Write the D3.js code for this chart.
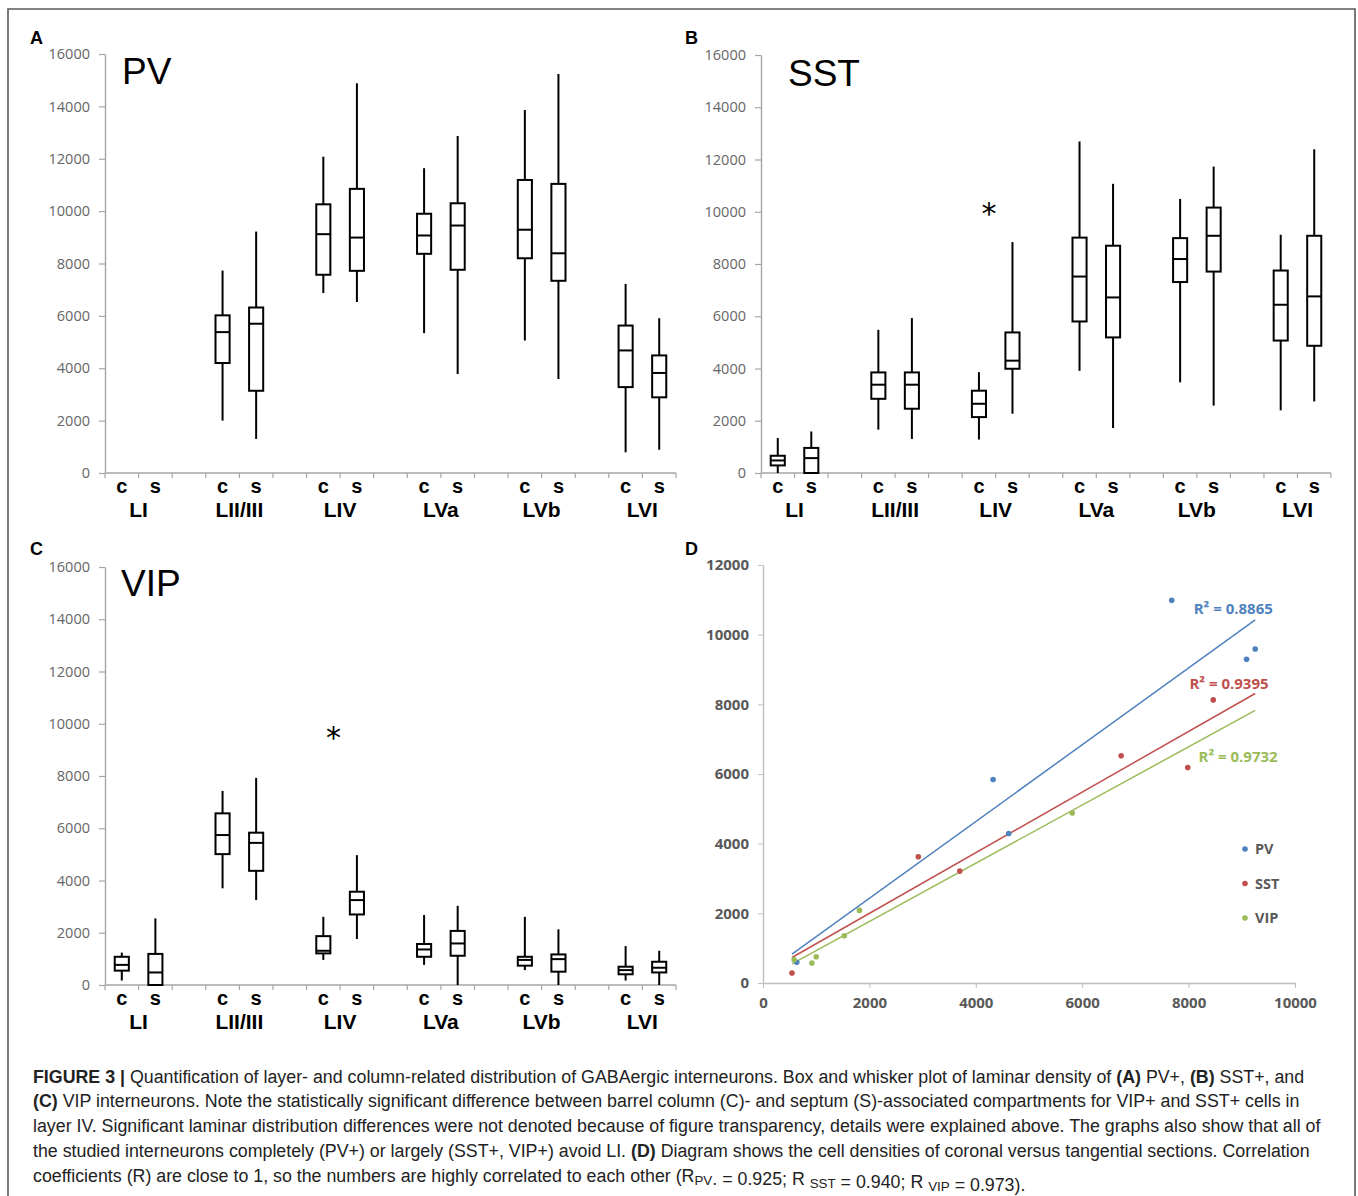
<!DOCTYPE html>
<html><head><meta charset="utf-8">
<script src="https://cdn.jsdelivr.net/npm/d3@7/dist/d3.min.js"></script>
<style>body{margin:0;background:#fff}svg{display:block}</style>
</head><body>
<svg id="fig" width="1358" height="1196"></svg>
<script>
// ---------------- DATA ----------------
const layers = ["LI", "LII/III", "LIV", "LVa", "LVb", "LVI"];
const compartments = ["c", "s"];
const yTicksBox = [0, 2000, 4000, 6000, 8000, 10000, 12000, 14000, 16000];
// each entry: [whisker low, Q1, median, Q3, whisker high]; order LI c, LI s, LII/III c, LII/III s, ...
const pvBoxes = [
  null, null,
  [2000, 4200, 5380, 6020, 7730], [1300, 3140, 5700, 6320, 9220],
  [6870, 7570, 9120, 10260, 12080], [6530, 7720, 8990, 10850, 14880],
  [5340, 8370, 9070, 9900, 11640], [3780, 7760, 9450, 10300, 12870],
  [5060, 8200, 9290, 11190, 13860], [3590, 7340, 8390, 11040, 15240],
  [790, 3280, 4680, 5630, 7220], [890, 2890, 3820, 4490, 5910]
];
const sstBoxes = [
  [0, 290, 480, 660, 1340], [0, 0, 570, 960, 1590],
  [1660, 2840, 3380, 3850, 5480], [1300, 2460, 3380, 3850, 5930],
  [1280, 2140, 2650, 3150, 3860], [2270, 3990, 4300, 5380, 8840],
  [3910, 5800, 7520, 9010, 12690], [1720, 5190, 6720, 8700, 11070],
  [3470, 7310, 8190, 8990, 10490], [2580, 7710, 9080, 10160, 11730],
  [2400, 5070, 6440, 7750, 9120], [2740, 4870, 6760, 9080, 12390]
];
const vipBoxes = [
  [170, 550, 770, 1080, 1240], [0, 0, 480, 1190, 2550],
  [3700, 5010, 5740, 6570, 7430], [3250, 4370, 5440, 5830, 7930],
  [960, 1210, 1310, 1870, 2610], [1760, 2700, 3250, 3570, 4970],
  [770, 1080, 1360, 1570, 2680], [0, 1120, 1590, 2070, 3030],
  [570, 740, 960, 1080, 2610], [0, 510, 990, 1170, 2130],
  [170, 410, 570, 700, 1490], [0, 480, 660, 890, 1310]
];
// significance markers: [layer, value]
const sstStar = ["LIV", 10070];
const vipStar = ["LIV", 9620];

// Panel D: coronal (x) vs tangential (y) densities
const seriesNames = ["PV", "SST", "VIP"];
const pvX = [634, 4325, 4618, 7683, 9089, 9252];
const pvY = [593, 5842, 4293, 10987, 9294, 9590];
const sstX = [545, 2919, 3699, 6732, 7984, 8463];
const sstY = [287, 3624, 3213, 6521, 6186, 8127];
const vipX = [585, 919, 1000, 1528, 1813, 5813];
const vipY = [669, 574, 755, 1358, 2084, 4877];
const r2Labels = ["R² = 0.8865", "R² = 0.9395", "R² = 0.9732"];
const xTicksD = [0, 2000, 4000, 6000, 8000, 10000];
const yTicksD = [0, 2000, 4000, 6000, 8000, 10000, 12000];

const captionLines = [
  [["FIGURE 3 | ", true], ["Quantification of layer- and column-related distribution of GABAergic interneurons. Box and whisker plot of laminar density of ", false], ["(A)", true], [" PV+, ", false], ["(B)", true], [" SST+, and", false]],
  [["(C)", true], [" VIP interneurons. Note the statistically significant difference between barrel column (C)- and septum (S)-associated compartments for VIP+ and SST+ cells in", false]],
  [["layer IV. Significant laminar distribution differences were not denoted because of figure transparency, details were explained above. The graphs also show that all of", false]],
  [["the studied interneurons completely (PV+) or largely (SST+, VIP+) avoid LI. ", false], ["(D)", true], [" Diagram shows the cell densities of coronal versus tangential sections. Correlation", false]],
  [["coefficients (R) are close to 1, so the numbers are highly correlated to each other (R", false], ["PV", "sub"], [". =  0.925; R ", false], ["SST", "sub"], [" =  0.940; R ", false], ["VIP", "sub"], [" = 0.973).", false]]
];

// ---------------- DRAWING ----------------
const svg = d3.select("#fig");
const axisGray = "#a6a6a6";
const labelGray = "#595959";
const sans = "'Liberation Sans', Arial, sans-serif";
const tickFont = "'Open Sans', 'Liberation Sans', sans-serif";

svg.append("path").attr("d", "M8,1196V9H1355V1196")
  .attr("fill", "none").attr("stroke", "#5a5a5a").attr("stroke-width", 1.6);

function boxPanel(cfg) {
  const g = svg.append("g");
  const slots = [];
  layers.forEach((L, i) => {
    compartments.forEach(c => slots.push(L + "|" + c));
    if (i < layers.length - 1) slots.push(L + "|gap");
  });
  const x = d3.scaleBand().domain(slots).range([cfg.x0, cfg.x1]);
  const y = d3.scaleLinear().domain([0, 16000]).range([cfg.yBot, cfg.yTop]);
  const bw = x.bandwidth();

  const ya = g.append("g").attr("transform", `translate(${cfg.x0},0)`)
    .call(d3.axisLeft(y).tickValues(yTicksBox).tickSize(6).tickSizeOuter(0).tickPadding(9).tickFormat(d3.format("d")));
  ya.select(".domain").attr("stroke", axisGray).attr("stroke-width", 1.4);
  ya.selectAll(".tick line").attr("stroke", axisGray).attr("stroke-width", 1.2);
  ya.selectAll(".tick text").attr("fill", "#666").style("font-family", tickFont).style("font-size", "14.5px");

  const bounds = slots.map(s => x(s)).concat([cfg.x1]);
  g.append("line").attr("x1", cfg.x0).attr("x2", cfg.x1).attr("y1", cfg.yBot).attr("y2", cfg.yBot)
    .attr("stroke", axisGray).attr("stroke-width", 1.4);
  g.selectAll(".xt").data(bounds).join("line").attr("class", "xt")
    .attr("x1", d => d).attr("x2", d => d).attr("y1", cfg.yBot).attr("y2", cfg.yBot + 5)
    .attr("stroke", axisGray).attr("stroke-width", 1.2);

  const items = [];
  layers.forEach((L, i) => compartments.forEach((c, j) => {
    const v = cfg.data[i * 2 + j];
    if (v) items.push({ slot: L + "|" + c, v });
  }));
  const boxW = bw * 0.42;
  const bg = g.selectAll(".box").data(items).join("g").attr("class", "box");
  bg.append("line").attr("x1", d => x(d.slot) + bw / 2).attr("x2", d => x(d.slot) + bw / 2)
    .attr("y1", d => y(d.v[0])).attr("y2", d => y(d.v[4])).attr("stroke", "#000").attr("stroke-width", 2);
  bg.append("rect").attr("x", d => x(d.slot) + bw / 2 - boxW / 2).attr("width", boxW)
    .attr("y", d => y(d.v[3])).attr("height", d => y(d.v[1]) - y(d.v[3]))
    .attr("fill", "#fff").attr("stroke", "#000").attr("stroke-width", 2);
  bg.append("line").attr("x1", d => x(d.slot) + bw / 2 - boxW / 2).attr("x2", d => x(d.slot) + bw / 2 + boxW / 2)
    .attr("y1", d => y(d.v[2])).attr("y2", d => y(d.v[2])).attr("stroke", "#000").attr("stroke-width", 2);

  layers.forEach(L => compartments.forEach(c => {
    g.append("text").attr("x", x(L + "|" + c) + bw / 2).attr("y", cfg.yBot + 20)
      .attr("text-anchor", "middle").style("font-family", sans).style("font-weight", "bold")
      .style("font-size", "20px").text(c);
  }));
  layers.forEach(L => {
    g.append("text").attr("x", x(L + "|c") + bw).attr("y", cfg.yBot + 44)
      .attr("text-anchor", "middle").style("font-family", sans).style("font-weight", "bold")
      .style("font-size", "21px").text(L);
  });

  g.append("text").attr("x", cfg.titleX).attr("y", cfg.titleY).style("font-family", sans)
    .style("font-size", "37px").text(cfg.title);
  g.append("text").attr("x", cfg.letterX).attr("y", cfg.letterY).style("font-family", sans)
    .style("font-weight", "bold").style("font-size", "18px").text(cfg.letter);

  if (cfg.star) {
    g.append("text").attr("x", x(cfg.star[0] + "|c") + bw * 0.8).attr("y", y(cfg.star[1]) + 14)
      .attr("text-anchor", "middle").style("font-family", "'DejaVu Sans', sans-serif")
      .style("font-size", "30px").text("*");
  }
}

boxPanel({ data: pvBoxes, x0: 105, x1: 676, yTop: 54, yBot: 473, title: "PV", titleX: 122, titleY: 84, letter: "A", letterX: 30, letterY: 44 });
boxPanel({ data: sstBoxes, x0: 761, x1: 1331, yTop: 55, yBot: 473, title: "SST", titleX: 788, titleY: 86, letter: "B", letterX: 685, letterY: 44, star: sstStar });
boxPanel({ data: vipBoxes, x0: 105, x1: 676, yTop: 567, yBot: 985, title: "VIP", titleX: 121, titleY: 596, letter: "C", letterX: 30, letterY: 555, star: vipStar });

// ---------------- Panel D ----------------
const colors = ["#4F81BD", "#C0504D", "#9BBB59"];
const xsD = [pvX, sstX, vipX], ysD = [pvY, sstY, vipY];
const xD = d3.scaleLinear().domain([0, 10000]).range([763, 1295]);
const yD = d3.scaleLinear().domain([0, 12000]).range([983, 565]);
const gD = svg.append("g");
const dGray = "#bfbfbf";
const yaD = gD.append("g").attr("transform", "translate(763,0)")
  .call(d3.axisLeft(yD).tickValues(yTicksD).tickSize(5).tickSizeOuter(0).tickPadding(9).tickFormat(d3.format("d")));
const xaD = gD.append("g").attr("transform", "translate(0,983)")
  .call(d3.axisBottom(xD).tickValues(xTicksD).tickSize(5).tickSizeOuter(0).tickPadding(9).tickFormat(d3.format("d")));
[yaD, xaD].forEach(a => {
  a.select(".domain").attr("stroke", dGray).attr("stroke-width", 1.4);
  a.selectAll(".tick line").attr("stroke", dGray);
  a.selectAll(".tick text").attr("fill", labelGray).style("font-family", tickFont)
    .style("font-weight", "bold").style("font-size", "15px");
});

function linreg(xs, ys) {
  const mx = d3.mean(xs), my = d3.mean(ys);
  const sxy = d3.sum(xs, (v, i) => (v - mx) * (ys[i] - my));
  const sxx = d3.sum(xs, v => (v - mx) * (v - mx));
  const b = sxy / sxx;
  return { b, a: my - b * mx };
}
const allX = [].concat(...xsD);
const xmin = d3.min(allX), xmax = d3.max(allX);
const r2Pos = [[8840, 10740], [8760, 8590], [8930, 6490]]; // label anchors in data units
seriesNames.forEach((name, k) => {
  const { a, b } = linreg(xsD[k], ysD[k]);
  gD.append("line").attr("x1", xD(xmin)).attr("y1", yD(a + b * xmin))
    .attr("x2", xD(xmax)).attr("y2", yD(a + b * xmax))
    .attr("stroke", colors[k]).attr("stroke-width", 1.5);
});
seriesNames.forEach((name, k) => {
  gD.selectAll(".pt" + k).data(xsD[k].map((v, i) => [v, ysD[k][i]])).join("circle")
    .attr("class", "pt" + k).attr("cx", d => xD(d[0])).attr("cy", d => yD(d[1]))
    .attr("r", 2.8).attr("fill", colors[k]);
  gD.append("text").attr("x", xD(r2Pos[k][0])).attr("y", yD(r2Pos[k][1]) + 5.5)
    .attr("text-anchor", "middle").attr("fill", colors[k]).style("font-family", tickFont)
    .style("font-weight", "bold").style("font-size", "15px").text(r2Labels[k]);
  const ly = 849 + k * 34.5;
  gD.append("circle").attr("cx", 1245).attr("cy", ly).attr("r", 2.8).attr("fill", colors[k]);
  gD.append("text").attr("x", 1255).attr("y", ly + 5).attr("fill", labelGray).style("font-family", tickFont)
    .style("font-weight", "bold").style("font-size", "14.5px").text(name);
});
gD.append("text").attr("x", 685).attr("y", 555).style("font-family", sans)
  .style("font-weight", "bold").style("font-size", "18px").text("D");

// ---------------- Caption ----------------
const capG = svg.append("g");
const capFs = 15.6;
const capTexts = captionLines.map((segs, li) => {
  const t = capG.append("text").attr("x", 33).attr("y", 1082.5 + li * 24.9)
    .style("font-family", sans).style("font-size", capFs + "px").attr("fill", "#222");
  segs.forEach(([s, st]) => {
    if (st === "sub") {
      t.append("tspan").attr("dy", 3).attr("class", "sub").text(s);
      t.append("tspan").attr("dy", -3).text("");
    } else {
      t.append("tspan").style("font-weight", st ? "bold" : "normal").text(s);
    }
  });
  return t;
});
// fit the caption so the all-regular third line spans the reference width
function applySize(fs) {
  capTexts.forEach(t => {
    t.style("font-size", fs + "px");
    t.selectAll("tspan.sub").style("font-size", (fs * 0.75) + "px");
  });
}
applySize(capFs);
const w3 = capTexts[2].node().getComputedTextLength();
applySize(capFs * 1288 / w3);
</script>
</body></html>
